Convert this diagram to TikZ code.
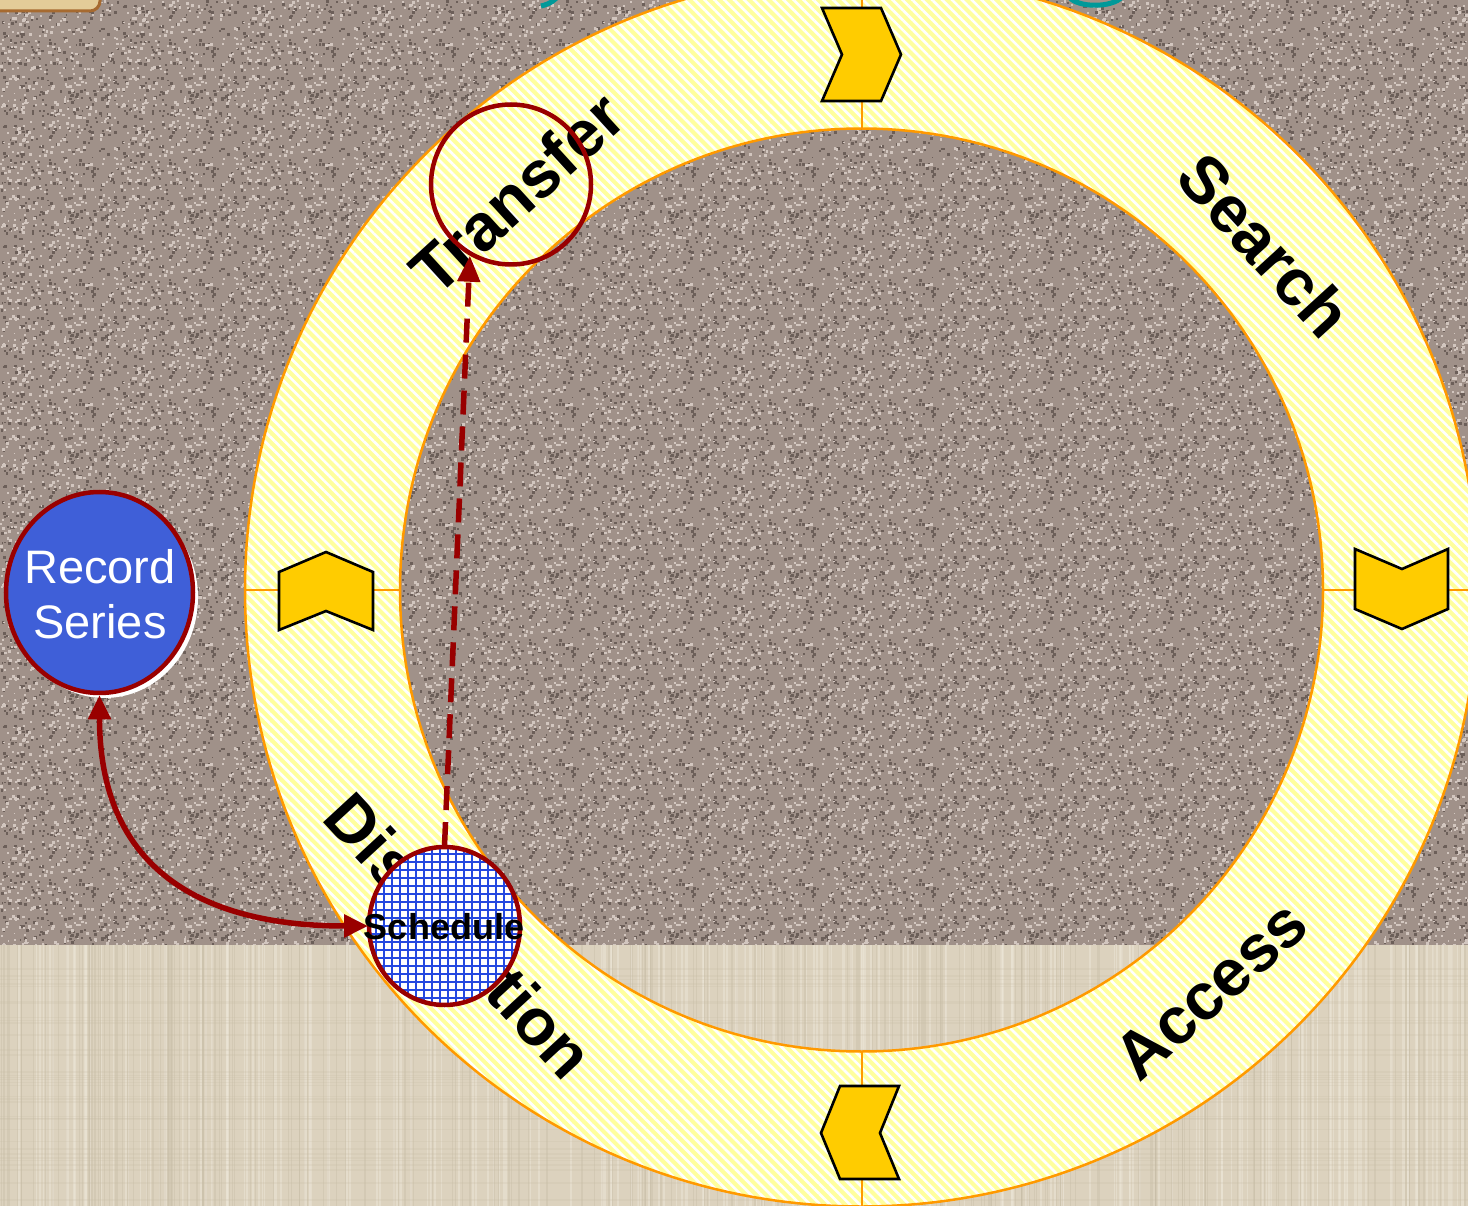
\documentclass[tikz,border=0pt]{standalone}
\usepackage{fontspec}
\setmainfont{Liberation Sans}
\usetikzlibrary{arrows.meta,patterns.meta,shapes.geometric}

\definecolor{granite}{HTML}{A09189}
\definecolor{granitedark}{HTML}{6C5F59}
\definecolor{granitelight}{HTML}{D2C6BF}
\definecolor{linen}{HTML}{DCD2BE}
\definecolor{linendark}{HTML}{C4B9A2}
\definecolor{linenlight}{HTML}{EDE6D8}
\definecolor{ringyellow}{HTML}{FFFF9E}
\definecolor{ringedge}{HTML}{FF9900}
\definecolor{chevfill}{HTML}{FFCC00}
\definecolor{darkred}{HTML}{990000}
\definecolor{seriesblue}{HTML}{3F5FD8}
\definecolor{gridblue}{HTML}{2448E0}
\definecolor{titleteal}{HTML}{009999}
\definecolor{tabfill}{HTML}{E3CC98}
\definecolor{tabedge}{HTML}{A66A30}

\tikzset{
  chevron/.style={fill=chevfill, draw=black, line width=2.6pt, line join=miter},
  divider/.style={draw=ringedge, line width=2pt},
  ringlabel/.style={font=\fontsize{66}{66}\selectfont\bfseries, text=black, inner sep=0pt},
  hoop/.style={circle, draw=darkred, line width=4.5pt, minimum size=160pt, inner sep=0pt},
  gridball/.style={ellipse, draw=darkred, line width=4.5pt, inner sep=0pt,
    preaction={fill=white},
    pattern={Hatch[angle=0, distance=8pt, line width=1.8pt]}, pattern color=gridblue},
  blueball/.style={ellipse, fill=seriesblue, draw=darkred, line width=4.5pt, inner sep=0pt},
  link/.style={draw=darkred, line width=5.5pt},
  tile/.style={inner sep=0pt, outer sep=0pt, anchor=north west}
}

\newsavebox{\grainbox}

\begin{document}
% one square of speckled stone grain, repeated over the upper backdrop
\sbox{\grainbox}{%
\begin{pgfpicture}
  \pgfpathrectangle{\pgfpointorigin}{\pgfpoint{120pt}{120pt}}%
  \pgfusepath{use as bounding box}%
  \pgfmathsetseed{4242}%
  \pgfsetfillcolor{granitedark}%
  \foreach \k in {1,...,260}{%
    \pgfmathsetmacro{\gx}{rnd*118}%
    \pgfmathsetmacro{\gy}{rnd*118}%
    \pgfmathsetmacro{\gr}{1.5+rnd*1.6}%
    \pgfpathrectangle{\pgfpoint{\gx pt}{\gy pt}}{\pgfpoint{\gr pt}{\gr pt}}%
    \pgfusepath{fill}%
  }%
  \pgfsetfillcolor{granitelight}%
  \foreach \k in {1,...,260}{%
    \pgfmathsetmacro{\gx}{rnd*118}%
    \pgfmathsetmacro{\gy}{rnd*118}%
    \pgfmathsetmacro{\gr}{1.5+rnd*1.6}%
    \pgfpathrectangle{\pgfpoint{\gx pt}{\gy pt}}{\pgfpoint{\gr pt}{\gr pt}}%
    \pgfusepath{fill}%
  }%
\end{pgfpicture}}%
\begin{tikzpicture}[x=1pt, y=-1pt]
\useasboundingbox (0,0) rectangle (1468,1206);

% backdrop: granite above
\fill[granite] (0,0) rectangle (1468,945);
\begin{scope}
  \clip (0,0) rectangle (1468,945);
  \foreach \i in {0,...,12}{
    \foreach \j in {0,...,7}{
      \node[tile] (grain-\i-\j) at (\i*120,\j*120) {\usebox{\grainbox}};
    }
  }
\end{scope}

% backdrop: linen below, with faint woven streaks
\fill[linen] (0,945) rectangle (1468,1206);
\begin{scope}
  \clip (0,945) rectangle (1468,1206);
  \pgfmathsetseed{77}
  \foreach \k in {1,...,230}{
    \pgfmathsetmacro{\gx}{rnd*1468}
    \pgfmathsetmacro{\gw}{0.6+rnd*1.4}
    \fill[linendark, opacity=0.35] (\gx,945) rectangle ++(\gw,261);
  }
  \foreach \k in {1,...,200}{
    \pgfmathsetmacro{\gx}{rnd*1468}
    \pgfmathsetmacro{\gw}{0.8+rnd*1.8}
    \fill[linenlight, opacity=0.5] (\gx,945) rectangle ++(\gw,261);
  }
  \foreach \k in {1,...,40}{
    \pgfmathsetmacro{\gy}{945+rnd*261}
    \pgfmathsetmacro{\gw}{0.6+rnd*1.2}
    \fill[linendark, opacity=0.18] (0,\gy) rectangle ++(1468,\gw);
  }
\end{scope}

% corner tab and title fragments at the top edge
\filldraw[fill=tabfill, draw=tabedge, line width=3pt, rounded corners=10pt] (-20,-30) rectangle (100,11);
\draw[titleteal, line width=5pt] (541,6) .. controls (550,4) and (555,0) .. (558,-4);
\draw[titleteal, line width=5pt] (1069,-3) .. controls (1078,8) and (1112,8) .. (1122,-3);

% the cycle ring
\coordinate (hub) at (861.5,590);
\path[fill=ringyellow, even odd rule] (hub) circle[radius=616.5] (hub) circle[radius=461.5];
\path[pattern={Lines[angle=-45, distance=7pt, line width=2.6pt]}, pattern color=white, even odd rule]
  (hub) circle[radius=616.5] (hub) circle[radius=461.5];
\draw[ringedge, line width=2.5pt] (hub) circle[radius=616.5] (hub) circle[radius=461.5];

% quadrant dividers
\draw[divider] (861.5,-27) -- (861.5,128.5);
\draw[divider] (861.5,1051.5) -- (861.5,1207);
\draw[divider] (245,590) -- (400,590);
\draw[divider] (1323,590) -- (1478,590);

% direction chevrons
\draw[chevron] (822,8) -- (881,8) -- (901,54.5) -- (881,101) -- (822,101) -- (842,54.5) -- cycle;
\draw[chevron] (1355,549) -- (1402,569) -- (1448,549) -- (1448,609) -- (1402,629) -- (1355,609) -- cycle;
\draw[chevron] (899,1086) -- (840,1086) -- (821,1133) -- (840,1179) -- (899,1179) -- (880,1133) -- cycle;
\draw[chevron] (279,630) -- (279,572) -- (326,552) -- (373,572) -- (373,630) -- (326,611) -- cycle;

% stage labels
\node[ringlabel, rotate=42.4] (lbltransfer) at (517,193) {Transfer};
\node[ringlabel, rotate=-47.6] (lblsearch) at (1265,245) {Search};
\node[ringlabel, rotate=41.8] (lblaccess) at (1211,990) {Access};
\node[ringlabel, rotate=-47.3] (lbldisposition) at (455,940) {Disposition};

% record series ball with its white shadow
\fill[white] (104.5,597.5) ellipse[x radius=93.5, y radius=100.5];
\node[blueball, minimum width=187pt, minimum height=201pt] (series) at (99.5,592.5) {};
\node[text=white, align=center, font=\fontsize{47}{55}\selectfont, inner sep=0pt] (serieslabel) at (100,594) {Record\\Series};

% transfer hoop
\node[hoop] (xfer) at (511,184.5) {};

% schedule ball
\node[gridball, minimum width=151pt, minimum height=158pt] (sched) at (444.5,926) {};
\node[font=\fontsize{36}{36}\selectfont\bfseries, inner sep=0pt] (schedlabel) at (444,927) {Schedule};

% connectors
\draw[link, dash pattern=on 24pt off 12pt, -{Triangle[length=26pt, width=22pt]}] (sched.north) -- (xfer.240);
\draw[link, {Triangle[length=24pt, width=22pt]}-{Triangle[length=24pt, width=22pt]}]
  (series.south) .. controls +(0,205) and +(-120,0) .. (sched.west);
\end{tikzpicture}
\end{document}
